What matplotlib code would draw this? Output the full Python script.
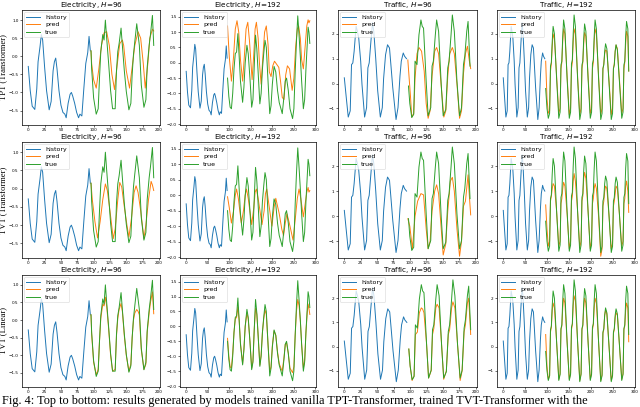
import numpy as np
import matplotlib
matplotlib.use('Agg')
from matplotlib import pyplot as plt

# ---- Electricity (history shared by every electricity panel) ----
elec_hist_x = [0, 3, 6, 10, 13, 15, 18, 20, 22, 25, 28, 32, 35, 38, 40, 42, 44, 47, 50, 53,
               56, 58, 61, 64, 66, 68, 71, 74, 77, 79, 82, 85, 88, 91, 93, 95]
elec_hist_y = [-0.28, -0.95, -1.38, -1.47, -0.9, -0.15, 0.27, 0.6, 0.45, -0.3, -0.95, -1.48, -1.25, -0.4, -0.15, -0.05, -0.35, -0.95, -1.35, -1.55,
               -1.6, -1.7, -1.3, -1.05, -1.0, -1.1, -1.3, -1.55, -1.7, -1.6, -1.65, -0.9, -0.2, 0.1, 0.55, 0.15]

elec_true96_x = [96, 97, 100, 104, 107, 109, 111, 114, 116, 118, 120, 123, 126, 129, 133, 135, 137, 139, 142, 144,
                 147, 150, 154, 157, 159, 161, 163, 166, 168, 170, 173, 177, 180, 182, 185, 187, 190, 192]
elec_true96_y = [0.15, -0.35, -1.15, -1.6, -1.45, -0.6, 0.13, 0.6, 0.45, 1.0, 0.5, -0.2, -0.95, -1.45, -1.45, -0.4, 0.13, 0.35, 0.78, 0.3,
                 -0.4, -0.97, -1.48, -1.3, -0.5, 0.05, 0.4, 0.9, 0.6, 0.3, -0.8, -1.41, -1.2, -0.3, 0.3, 0.6, 1.13, 0.3]

elec_pred96_tpt_x = [96, 97, 100, 104, 108, 112, 116, 120, 124, 128, 132, 136, 140, 144, 146, 150, 155, 159, 163, 168,
                     172, 176, 179, 183, 186, 190, 192]
elec_pred96_tpt_y = [0.15, -0.2, -0.65, -0.88, -0.35, 0.3, 0.65, 0.68, 0.3, -0.5, -0.92, -0.25, 0.35, 0.45, 0.3, -0.4, -0.88, -0.3, 0.3, 0.68,
                     0.5, -0.2, -0.88, -0.2, 0.5, 0.75, 0.7]

elec_pred96_tvt_x = [96, 98, 102, 106, 110, 114, 118, 121, 125, 130, 133, 137, 140, 143, 147, 151, 154, 158, 162, 165,
                     168, 172, 177, 180, 184, 188, 190, 192]
elec_pred96_tvt_y = [0.15, -0.3, -0.9, -1.35, -0.9, -0.3, 0.13, -0.05, -0.6, -1.37, -1.1, -0.3, 0.17, 0.05, -0.5, -1.0, -1.33, -0.8, -0.1, 0.08,
                     -0.1, -0.6, -1.37, -1.0, -0.3, 0.2, 0.1, -0.05]

elec_pred96_lin_y = [0.15, -0.4, -1.2, -1.55, -1.4, -0.6, 0.05, 0.45, 0.4, 0.65, 0.4, -0.25, -1.0, -1.45, -1.4, -0.45, 0.05, 0.3, 0.47, 0.25,
                     -0.45, -1.0, -1.45, -1.25, -0.5, 0.0, 0.2, 0.3, 0.25, 0.15, -0.85, -1.4, -1.25, -0.35, 0.2, 0.5, 0.8, 0.18]

elec_true192_x = [96, 99, 102, 105, 108, 111, 114, 117, 120, 123, 126, 131, 134, 137, 141, 144, 148, 152, 155, 158,
                  161, 164, 167, 171, 174, 177, 180, 183, 186, 190, 194, 197, 200, 204, 208, 212, 216, 220, 223, 227,
                  230, 233, 237, 241, 247, 250, 253, 256, 259, 262, 265, 268, 272, 275, 278, 281, 283, 285, 287]
elec_true192_y = [-0.5, -1.1, -1.45, -1.5, -1.0, -0.2, 0.3, 0.35, 0.95, 0.2, -0.6, -1.29, -0.8, 0.0, 0.57, 0.3, -0.5, -1.45, -1.2, -0.1,
                  0.9, 0.45, -0.3, -1.34, -1.0, -0.2, 0.3, 0.73, 0.5, -0.6, -1.66, -1.4, -0.7, -0.12, -0.3, -0.9, -1.3, -1.5, -1.66, -1.1,
                  -0.6, -0.5, -0.9, -1.5, -1.82, -1.5, -0.3, 0.7, 1.53, 0.9, 0.2, -0.6, -1.5, -1.2, -0.2, 0.6, 1.16, 1.0, 0.63]

elec_pred192_tpt_x = [96, 100, 105, 110, 114, 118, 122, 126, 131, 135, 139, 143, 147, 153, 157, 160, 163, 167, 170, 174,
                      178, 182, 186, 190, 193, 197, 201, 205, 210, 215, 219, 223, 227, 231, 235, 240, 246, 250, 254, 258,
                      261, 265, 268, 272, 276, 280, 283, 285, 287]
elec_pred192_tpt_y = [1.2, 0.2, -0.6, 0.2, 1.1, 1.37, 1.0, 0.1, -0.6, 0.2, 1.1, 1.32, 0.7, -0.55, 0.3, 1.1, 1.32, 0.8, 0.0, -0.7,
                      0.2, 1.0, 1.2, 0.6, -0.3, -0.45, -0.1, 0.05, -0.05, -0.15, -0.6, -1.13, -1.2, -0.4, -0.1, -0.2, -0.9, -0.5, 0.5, 1.1,
                      1.2, 0.8, 0.1, -0.2, 0.5, 1.2, 1.4, 1.3, 1.37]

elec_pred192_tvt_x = [96, 100, 105, 110, 114, 117, 121, 128, 133, 137, 140, 144, 152, 157, 160, 163, 167, 176, 181, 184,
                      187, 191, 199, 204, 208, 216, 222, 226, 230, 234, 241, 248, 253, 258, 262, 266, 272, 277, 280, 283,
                      285, 287]
elec_pred192_tvt_y = [-0.05, -0.4, -0.9, -0.5, 0.0, 0.2, -0.1, -0.9, -0.5, 0.0, 0.2, -0.1, -0.95, -0.4, 0.1, 0.2, -0.1, -0.95, -0.5, 0.05,
                      0.2, -0.2, -1.0, -0.4, -0.1, -0.6, -1.1, -1.3, -0.9, -0.6, -1.0, -1.45, -0.8, -0.1, 0.2, -0.1, -0.7, -0.2, 0.1, 0.25,
                      0.1, 0.15]

elec_pred192_lin_y = [-0.4, -1.0, -1.35, -1.4, -0.9, -0.2, 0.25, 0.3, 0.65, 0.2, -0.55, -1.25, -0.75, 0.0, 0.45, 0.25, -0.5, -1.4, -1.15, -0.1,
                      0.6, 0.4, -0.3, -1.3, -0.95, -0.2, 0.25, 0.55, 0.4, -0.6, -1.5, -1.35, -0.65, -0.15, -0.3, -0.85, -1.25, -1.4, -1.5, -1.05,
                      -0.6, -0.55, -0.9, -1.4, -1.55, -1.35, -0.3, 0.5, 0.9, 0.7, 0.2, -0.6, -1.4, -1.15, -0.2, 0.45, 0.75, 0.6, 0.4]

# ---- Traffic ----
traf_hist_x = [0, 3, 6, 9, 11, 13, 15, 18, 20, 22, 25, 27, 31, 34, 36, 38, 40, 43, 45, 48,
               51, 55, 58, 60, 63, 66, 69, 71, 74, 79, 82, 85, 87, 90, 92, 95]
traf_hist_y = [0.23, -0.57, -1.35, -1.1, 0.76, 0.83, 1.3, 2.3, 2.1, 1.83, 0.9, -0.04, -1.35, -0.97, 0.63, 0.83, 1.5, 2.45, 2.1, 1.0,
               -0.3, -1.35, -0.97, 0.2, 1.16, 1.56, 1.43, 0.8, -0.17, -1.45, -0.97, 0.3, 0.9, 1.23, 1.1, 1.0]

traf_true96_x = [98, 100, 103, 106, 108, 111, 114, 117, 119, 121, 125, 128, 132, 134, 136, 139, 141, 144, 148, 151,
                 155, 158, 160, 163, 165, 168, 172, 176, 179, 182, 184, 187, 189, 192]
traf_true96_y = [-0.1, -0.8, -1.37, -1.24, 0.9, 0.76, 1.96, 2.56, 2.3, 2.23, 0.1, -1.3, -0.97, 0.7, 0.9, 1.96, 2.56, 2.1, -0.04, -1.3,
                 -1.04, 0.63, 0.9, 1.96, 2.76, 2.1, 0.1, -1.3, -0.97, 0.76, 1.1, 2.1, 2.5, 0.7]

traf_pred96_tpt_x = [97, 101, 103, 106, 108, 111, 114, 118, 122, 125, 128, 131, 134, 138, 141, 144, 148, 152, 155, 158,
                     161, 165, 168, 172, 176, 179, 182, 185, 188, 191, 193]
traf_pred96_tpt_y = [0.95, -0.5, -1.35, -1.2, 0.2, 1.2, 1.45, 1.3, 0.5, -0.8, -1.4, -1.1, 0.3, 1.3, 1.45, 1.2, -0.1, -1.35, -1.1, 0.3,
                     1.2, 1.45, 1.2, 0.0, -1.4, -1.1, 0.4, 1.2, 1.5, 0.9, 0.6]

traf_pred96_tvt_x = [97, 100, 104, 108, 112, 117, 121, 125, 128, 131, 134, 138, 141, 144, 148, 151, 155, 158, 162, 165,
                     168, 172, 176, 179, 182, 185, 189, 191, 193]
traf_pred96_tvt_y = [-0.1, -0.4, -1.3, 0.0, 0.6, 0.9, 0.85, -0.5, -1.3, -1.0, 0.2, 1.0, 1.25, 0.9, -0.5, -1.55, -1.1, 0.2, 1.4, 1.55,
                     1.0, -0.5, -1.6, -1.0, 0.4, 0.6, 1.65, 0.8, 0.05]

traf_pred96_lin_y = [-0.1, -0.8, -1.4, -1.2, 0.5, 0.6, 1.4, 1.6, 1.55, 1.4, 0.1, -1.3, -1.0, 0.5, 0.75, 1.6, 1.75, 1.6, 0.0, -1.35,
                     -1.0, 0.5, 0.7, 1.6, 1.85, 1.6, 0.1, -1.4, -1.0, 0.6, 0.9, 1.8, 2.0, 0.5]

traf_true192_x = [97, 100, 103, 106, 108, 110, 112, 114, 117, 122,
                  127, 130, 132, 134, 136, 138, 141, 146,
                  151, 154, 156, 158, 160, 162, 165, 170,
                  175, 178, 180, 182, 184, 186, 189, 194,
                  199, 202, 204, 206, 208, 210, 213, 218,
                  223, 226, 228, 230, 232, 234, 237, 242,
                  247, 250, 252, 254, 256, 258, 261, 266,
                  271, 274, 276, 278, 280, 282, 285, 287]
traf_true192_y = [-0.2, -1.0, -1.4, -1.2, 0.7, 0.85, 1.7, 2.3, 2.0, 0.2,
                  -1.4, -1.15, 0.75, 0.9, 1.9, 2.56, 2.2, 0.2,
                  -1.4, -1.15, 0.8, 0.95, 2.0, 2.76, 2.3, 0.2,
                  -1.45, -1.15, 0.75, 0.9, 1.8, 2.4, 2.1, 0.2,
                  -1.4, -1.15, 0.8, 0.95, 1.9, 2.56, 2.2, 0.2,
                  -1.45, -1.2, 0.6, 0.75, 1.3, 1.6, 1.4, 0.0,
                  -1.45, -1.2, 0.6, 0.75, 1.3, 1.56, 1.35, 0.0,
                  -1.4, -1.15, 0.75, 0.9, 1.9, 2.5, 2.2, 0.5]

traf_pred192_tpt_y = [0.9, -0.6, -1.2, -1.1, 0.5, 0.8, 1.5, 2.0, 1.8, 0.3,
                      -1.2, -1.0, 0.6, 0.85, 1.7, 2.2, 2.0, 0.3,
                      -1.25, -1.0, 0.6, 0.85, 1.7, 2.2, 2.0, 0.3,
                      -1.25, -1.0, 0.6, 0.85, 1.6, 2.05, 1.9, 0.3,
                      -1.2, -1.0, 0.6, 0.85, 1.7, 2.2, 2.0, 0.3,
                      -1.25, -1.0, 0.6, 0.8, 1.2, 1.35, 1.3, 0.1,
                      -1.25, -1.0, 0.6, 0.8, 1.3, 1.55, 1.4, 0.1,
                      -1.2, -1.0, 0.6, 0.85, 1.6, 2.1, 1.9, 0.5]

traf_pred192_tvt_y = [0.45, -0.5, -1.2, -1.0, 0.6, 0.8, 1.1, 1.3, 1.2, 0.2,
                      -1.2, -1.0, 0.5, 0.7, 1.1, 1.35, 1.2, 0.1,
                      -1.3, -1.0, 0.6, 0.8, 1.4, 1.7, 1.4, 0.2,
                      -1.25, -1.0, 0.6, 0.8, 1.5, 1.75, 1.5, 0.2,
                      -1.3, -1.0, 0.5, 0.7, 1.1, 1.3, 1.1, 0.0,
                      -1.6, -1.3, 0.4, 0.6, 1.0, 1.2, 1.1, 0.0,
                      -1.3, -1.1, 0.4, 0.6, 0.9, 1.2, 1.1, 0.0,
                      -1.2, -1.0, 0.5, 0.7, 1.2, 1.4, 1.0, 0.15]

traf_pred192_lin_y = [0.5, -0.8, -1.35, -1.2, 0.6, 0.8, 1.5, 1.8, 1.6, 0.2,
                      -1.35, -1.1, 0.7, 0.85, 1.6, 2.0, 1.8, 0.2,
                      -1.35, -1.1, 0.7, 0.9, 1.7, 2.1, 1.9, 0.2,
                      -1.4, -1.1, 0.7, 0.85, 1.6, 2.0, 1.8, 0.2,
                      -1.35, -1.1, 0.7, 0.9, 1.6, 2.0, 1.8, 0.2,
                      -1.4, -1.15, 0.55, 0.7, 1.3, 1.5, 1.35, 0.0,
                      -1.4, -1.15, 0.55, 0.7, 1.2, 1.4, 1.3, 0.0,
                      -1.35, -1.1, 0.7, 0.85, 1.5, 1.8, 1.6, 0.2]

row_labels = ['TPT (Transformer)', 'TVT (Transformer)', 'TVT (Linear)']
col_titles = ['Electricity, $H$=96', 'Electricity, $H$=192', 'Traffic, $H$=96', 'Traffic, $H$=192']
caption = ('Fig. 4: Top to bottom: results generated by models trained vanilla '
           'TPT-Transformer, trained TVT-Transformer with the')

# one entry per column: history, true, and the pred of each row
columns = [
    dict(hist=(elec_hist_x, elec_hist_y), true=(elec_true96_x, elec_true96_y),
         preds=[(elec_pred96_tpt_x, elec_pred96_tpt_y), (elec_pred96_tvt_x, elec_pred96_tvt_y),
                (elec_true96_x, elec_pred96_lin_y)],
         yticks=[-1.5, -1.0, -0.5, 0.0, 0.5, 1.0], ylim=(-1.9, 1.28),
         xticks=[0, 25, 50, 75, 100, 125, 150, 175, 200]),
    dict(hist=(elec_hist_x, elec_hist_y), true=(elec_true192_x, elec_true192_y),
         preds=[(elec_pred192_tpt_x, elec_pred192_tpt_y), (elec_pred192_tvt_x, elec_pred192_tvt_y),
                (elec_true192_x, elec_pred192_lin_y)],
         yticks=[-2.0, -1.5, -1.0, -0.5, 0.0, 0.5, 1.0, 1.5], ylim=(-2.03, 1.72),
         xticks=[0, 50, 100, 150, 200, 250, 300]),
    dict(hist=(traf_hist_x, traf_hist_y), true=(traf_true96_x, traf_true96_y),
         preds=[(traf_pred96_tpt_x, traf_pred96_tpt_y), (traf_pred96_tvt_x, traf_pred96_tvt_y),
                (traf_true96_x, traf_pred96_lin_y)],
         yticks=[-1, 0, 1, 2], ylim=(-1.67, 2.96),
         xticks=[0, 25, 50, 75, 100, 125, 150, 175, 200]),
    dict(hist=(traf_hist_x, traf_hist_y), true=(traf_true192_x, traf_true192_y),
         preds=[(traf_true192_x, traf_pred192_tpt_y), (traf_true192_x, traf_pred192_tvt_y),
                (traf_true192_x, traf_pred192_lin_y)],
         yticks=[-1, 0, 1, 2], ylim=(-1.67, 2.96),
         xticks=[0, 50, 100, 150, 200, 250, 300]),
]

W, H = 640, 407
col_px = [(22, 160), (180, 316), (338, 477), (497, 635)]
row_px = [(10, 125), (142, 258), (275, 387)]

fig = plt.figure(figsize=(W / 100, H / 100), dpi=100)

for r in range(3):
    for c in range(4):
        x0, x1 = col_px[c]
        y0, y1 = row_px[r]
        ax = fig.add_axes([x0 / W, 1 - y1 / H, (x1 - x0) / W, (y1 - y0) / H])
        col = columns[c]
        ax.plot(*col['hist'], color='C0', lw=0.7, label='history')
        ax.plot(*col['preds'][r], color='C1', lw=0.7, label='pred')
        ax.plot(*col['true'], color='C2', lw=0.7, label='true')
        ax.set_xticks(col['xticks'])
        ax.set_yticks(col['yticks'])
        ax.set_ylim(*col['ylim'])
        ax.tick_params(labelsize=3, length=1.5, width=0.4, pad=1)
        for s in ax.spines.values():
            s.set_linewidth(0.5)
        ax.set_title(col_titles[c], fontsize=5.2, pad=1.2)
        leg = ax.legend(loc='upper left', fontsize=4.5, handlelength=2.2, borderpad=0.4,
                        labelspacing=0.35, handletextpad=0.8, borderaxespad=0.3)
        leg.get_frame().set_linewidth(0.4)
        if c == 0:
            ax.set_ylabel(row_labels[r], fontsize=6.2, family='Liberation Serif', labelpad=1)

fig.text(0.003, 0.001, caption, fontsize=8.8, family='Liberation Serif', va='bottom', ha='left')

fig.savefig('out.png', dpi=100)
